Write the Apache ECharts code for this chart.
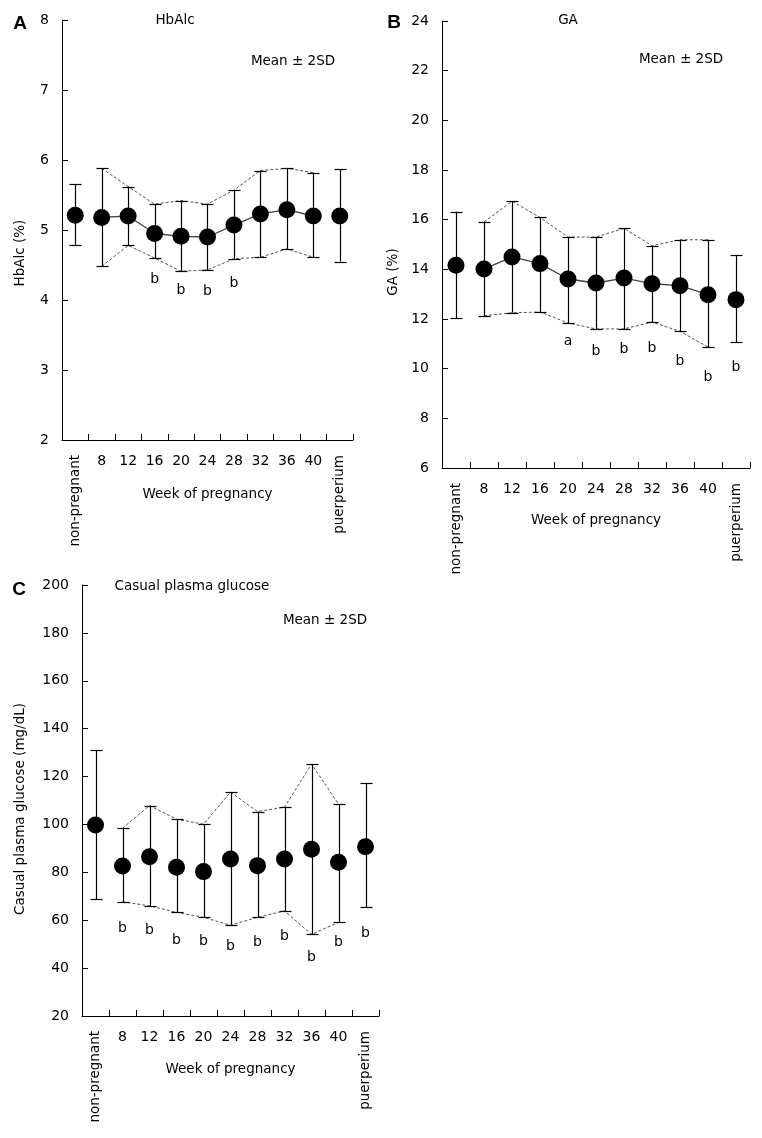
<!DOCTYPE html>
<html>
<head>
<meta charset="utf-8">
<script src="https://cdn.jsdelivr.net/npm/echarts@6/dist/echarts.min.js"></script>
<style>
html,body{margin:0;padding:0;background:#fff;}
#chart{width:762px;height:1138px;}
</style>
</head>
<body>
<div id="chart"></div>
<script>
// ---------- data ----------
const categories = ['non-pregnant','8','12','16','20','24','28','32','36','40','puerperium'];

// Panel A: HbAlc (%)
const hbMean  = [5.21, 5.18, 5.20, 4.95, 4.91, 4.90, 5.07, 5.23, 5.29, 5.20, 5.20];
const hbUpper = [5.65, 5.88, 5.62, 5.37, 5.42, 5.37, 5.57, 5.85, 5.88, 5.82, 5.87];
const hbLower = [4.78, 4.48, 4.78, 4.60, 4.41, 4.43, 4.59, 4.61, 4.73, 4.61, 4.55];
const hbLetters  = ['', '', '', 'b', 'b', 'b', 'b', '', '', '', ''];
const hbLetterY  = [null, null, null, 4.29, 4.14, 4.13, 4.24, null, null, null, null];

// Panel B: GA (%)
const gaMean  = [14.16, 14.01, 14.50, 14.23, 13.61, 13.45, 13.65, 13.42, 13.34, 12.98, 12.78];
const gaUpper = [16.32, 15.91, 16.74, 16.09, 15.30, 15.30, 15.65, 14.95, 15.19, 15.19, 14.56];
const gaLower = [12.04, 12.13, 12.25, 12.28, 11.84, 11.60, 11.60, 11.88, 11.50, 10.87, 11.07];
const gaLetters = ['', '', '', '', 'a', 'b', 'b', 'b', 'b', 'b', 'b'];
const gaLetterY = [null, null, null, null, 11.10, 10.70, 10.76, 10.83, 10.29, 9.66, 10.07];

// Panel C: Casual plasma glucose (mg/dL)
const cpgMean  = [99.8, 82.6, 86.5, 82.1, 80.3, 85.6, 82.8, 85.6, 89.6, 84.2, 90.7];
const cpgUpper = [130.9, 98.4, 107.9, 102.2, 100.1, 113.5, 105.4, 107.2, 125.2, 108.5, 117.2];
const cpgLower = [68.7, 67.7, 66.0, 63.3, 61.2, 57.9, 61.2, 63.9, 54.1, 59.1, 65.4];
const cpgLetters = ['', 'b', 'b', 'b', 'b', 'b', 'b', 'b', 'b', 'b', 'b'];
const cpgLetterY = [null, 56.6, 55.6, 51.7, 51.0, 48.9, 50.6, 53.1, 44.3, 50.6, 54.7];

// ---------- helpers ----------
const FONT = 'DejaVu Sans';
const pregOnly = arr => arr.map((v, i) => (i >= 1 && i <= 9) ? v : null);

const chart = echarts.init(document.getElementById('chart'), null, {renderer: 'canvas'});

const grids = [
  {left: 62, top: 20, width: 291, height: 420},
  {left: 442, top: 21, width: 308, height: 447},
  {left: 82, top: 585, width: 297, height: 431}
];

const yCfg = [
  {min: 2, max: 8, interval: 1},
  {min: 6, max: 24, interval: 2},
  {min: 20, max: 200, interval: 20}
];

const nameGaps = [47, 45, 46];

const xAxes = [];
const yAxes = [];
grids.forEach((g, gi) => {
  xAxes.push({
    type: 'category', gridIndex: gi, data: categories, position: 'bottom',
    boundaryGap: true,
    axisLine: {show: true, lineStyle: {color: '#000', width: 1}},
    axisTick: {show: true, inside: true, length: 6, lineStyle: {color: '#000'}},
    axisLabel: {
      interval: 0, margin: 14, color: '#000', fontFamily: FONT, fontSize: 14,
      formatter: v => (v === 'non-pregnant' || v === 'puerperium') ? '' : v
    },
    name: 'Week of pregnancy', nameLocation: 'middle', nameGap: nameGaps[gi],
    nameTextStyle: {color: '#000', fontFamily: FONT, fontSize: 13.5},
    splitLine: {show: false}
  });
  xAxes.push({
    type: 'category', gridIndex: gi, data: categories, position: 'bottom',
    boundaryGap: true,
    axisLine: {show: false}, axisTick: {show: false},
    axisLabel: {
      interval: 0, margin: 15, rotate: 90, color: '#000', fontFamily: FONT, fontSize: 13.5,
      formatter: v => (v === 'non-pregnant' || v === 'puerperium') ? v : ''
    },
    splitLine: {show: false}
  });
  yAxes.push({
    type: 'value', gridIndex: gi, min: yCfg[gi].min, max: yCfg[gi].max, interval: yCfg[gi].interval,
    axisLine: {show: true, lineStyle: {color: '#000', width: 1}},
    axisTick: {show: true, inside: true, length: 6, lineStyle: {color: '#000'}},
    axisLabel: {margin: 13, color: '#000', fontFamily: FONT, fontSize: 14},
    splitLine: {show: false}
  });
});

function errorBarSeries(gi, upper, lower) {
  return {
    type: 'custom', xAxisIndex: gi * 2, yAxisIndex: gi, z: 3,
    data: upper.map((u, i) => [i, lower[i], u]),
    encode: {x: 0, y: [1, 2]},
    renderItem: (params, api) => {
      const lo = api.coord([api.value(0), api.value(1)]);
      const hi = api.coord([api.value(0), api.value(2)]);
      const x = Math.round(lo[0]) + 0.5;
      const hw = 6;
      const st = {stroke: '#000', lineWidth: 1.2};
      return {
        type: 'group',
        children: [
          {type: 'line', shape: {x1: x, y1: lo[1], x2: x, y2: hi[1]}, style: st},
          {type: 'line', shape: {x1: x - hw, y1: Math.round(lo[1]) + 0.5, x2: x + hw, y2: Math.round(lo[1]) + 0.5}, style: st},
          {type: 'line', shape: {x1: x - hw, y1: Math.round(hi[1]) + 0.5, x2: x + hw, y2: Math.round(hi[1]) + 0.5}, style: st}
        ]
      };
    }
  };
}

function dashedSeries(gi, arr) {
  return {
    type: 'line', xAxisIndex: gi * 2, yAxisIndex: gi, z: 2,
    data: pregOnly(arr), connectNulls: false, symbol: 'none',
    lineStyle: {color: '#555', width: 1, type: [3, 2]},
    silent: true, animation: false
  };
}

function meanLineSeries(gi, arr) {
  return {
    type: 'line', xAxisIndex: gi * 2, yAxisIndex: gi, z: 2,
    data: pregOnly(arr), connectNulls: false, symbol: 'none',
    lineStyle: {color: '#444', width: 1.3},
    silent: true, animation: false
  };
}

function markerSeries(gi, arr) {
  return {
    type: 'scatter', xAxisIndex: gi * 2, yAxisIndex: gi, z: 5,
    data: arr.map((v, i) => [i, v]),
    symbol: 'circle', symbolSize: 17,
    itemStyle: {color: '#000', opacity: 1},
    animation: false
  };
}

function letterSeries(gi, letters, ys) {
  const d = [];
  letters.forEach((t, i) => { if (t && ys[i] != null) d.push([i, ys[i], t]); });
  return {
    type: 'custom', xAxisIndex: gi * 2, yAxisIndex: gi, z: 6,
    data: d, encode: {x: 0, y: 1},
    renderItem: (params, api) => {
      const p = api.coord([api.value(0), api.value(1)]);
      return {
        type: 'text', x: p[0], y: p[1],
        style: {text: d[params.dataIndex][2], align: 'center', verticalAlign: 'middle',
                fill: '#000', font: '14px "DejaVu Sans"'}
      };
    }
  };
}

const series = [
  dashedSeries(0, hbUpper), dashedSeries(0, hbLower), meanLineSeries(0, hbMean),
  errorBarSeries(0, hbUpper, hbLower), markerSeries(0, hbMean), letterSeries(0, hbLetters, hbLetterY),

  dashedSeries(1, gaUpper), dashedSeries(1, gaLower), meanLineSeries(1, gaMean),
  errorBarSeries(1, gaUpper, gaLower), markerSeries(1, gaMean), letterSeries(1, gaLetters, gaLetterY),

  dashedSeries(2, cpgUpper), dashedSeries(2, cpgLower),
  errorBarSeries(2, cpgUpper, cpgLower), markerSeries(2, cpgMean), letterSeries(2, cpgLetters, cpgLetterY)
];

function txt(text, x, y, opts) {
  return Object.assign({
    type: 'text', x: x, y: y,
    style: Object.assign({text: text, align: 'center', verticalAlign: 'middle', fill: '#000',
                          font: '13.5px "DejaVu Sans"'}, (opts && opts.style) || {})
  }, (opts && opts.el) || {});
}

const rot = {el: {rotation: Math.PI / 2}};
const graphics = [
  txt('A', 20, 24, {style: {font: 'bold 19px "Liberation Sans"'}}),
  txt('B', 394, 23, {style: {font: 'bold 19px "Liberation Sans"'}}),
  txt('C', 19, 590, {style: {font: 'bold 19px "Liberation Sans"'}}),
  txt('HbAlc', 175, 20),
  txt('GA', 568, 20),
  txt('Casual plasma glucose', 192, 586),
  txt('Mean ± 2SD', 293, 61),
  txt('Mean ± 2SD', 681, 59),
  txt('Mean ± 2SD', 325, 620),
  txt('HbAlc (%)', 20, 253, rot),
  txt('GA (%)', 393, 272, rot),
  txt('Casual plasma glucose (mg/dL)', 20, 809, rot)
];

chart.setOption({
  animation: false,
  backgroundColor: '#fff',
  grid: grids,
  xAxis: xAxes,
  yAxis: yAxes,
  series: series,
  graphic: {elements: graphics}
});
</script>
</body>
</html>
